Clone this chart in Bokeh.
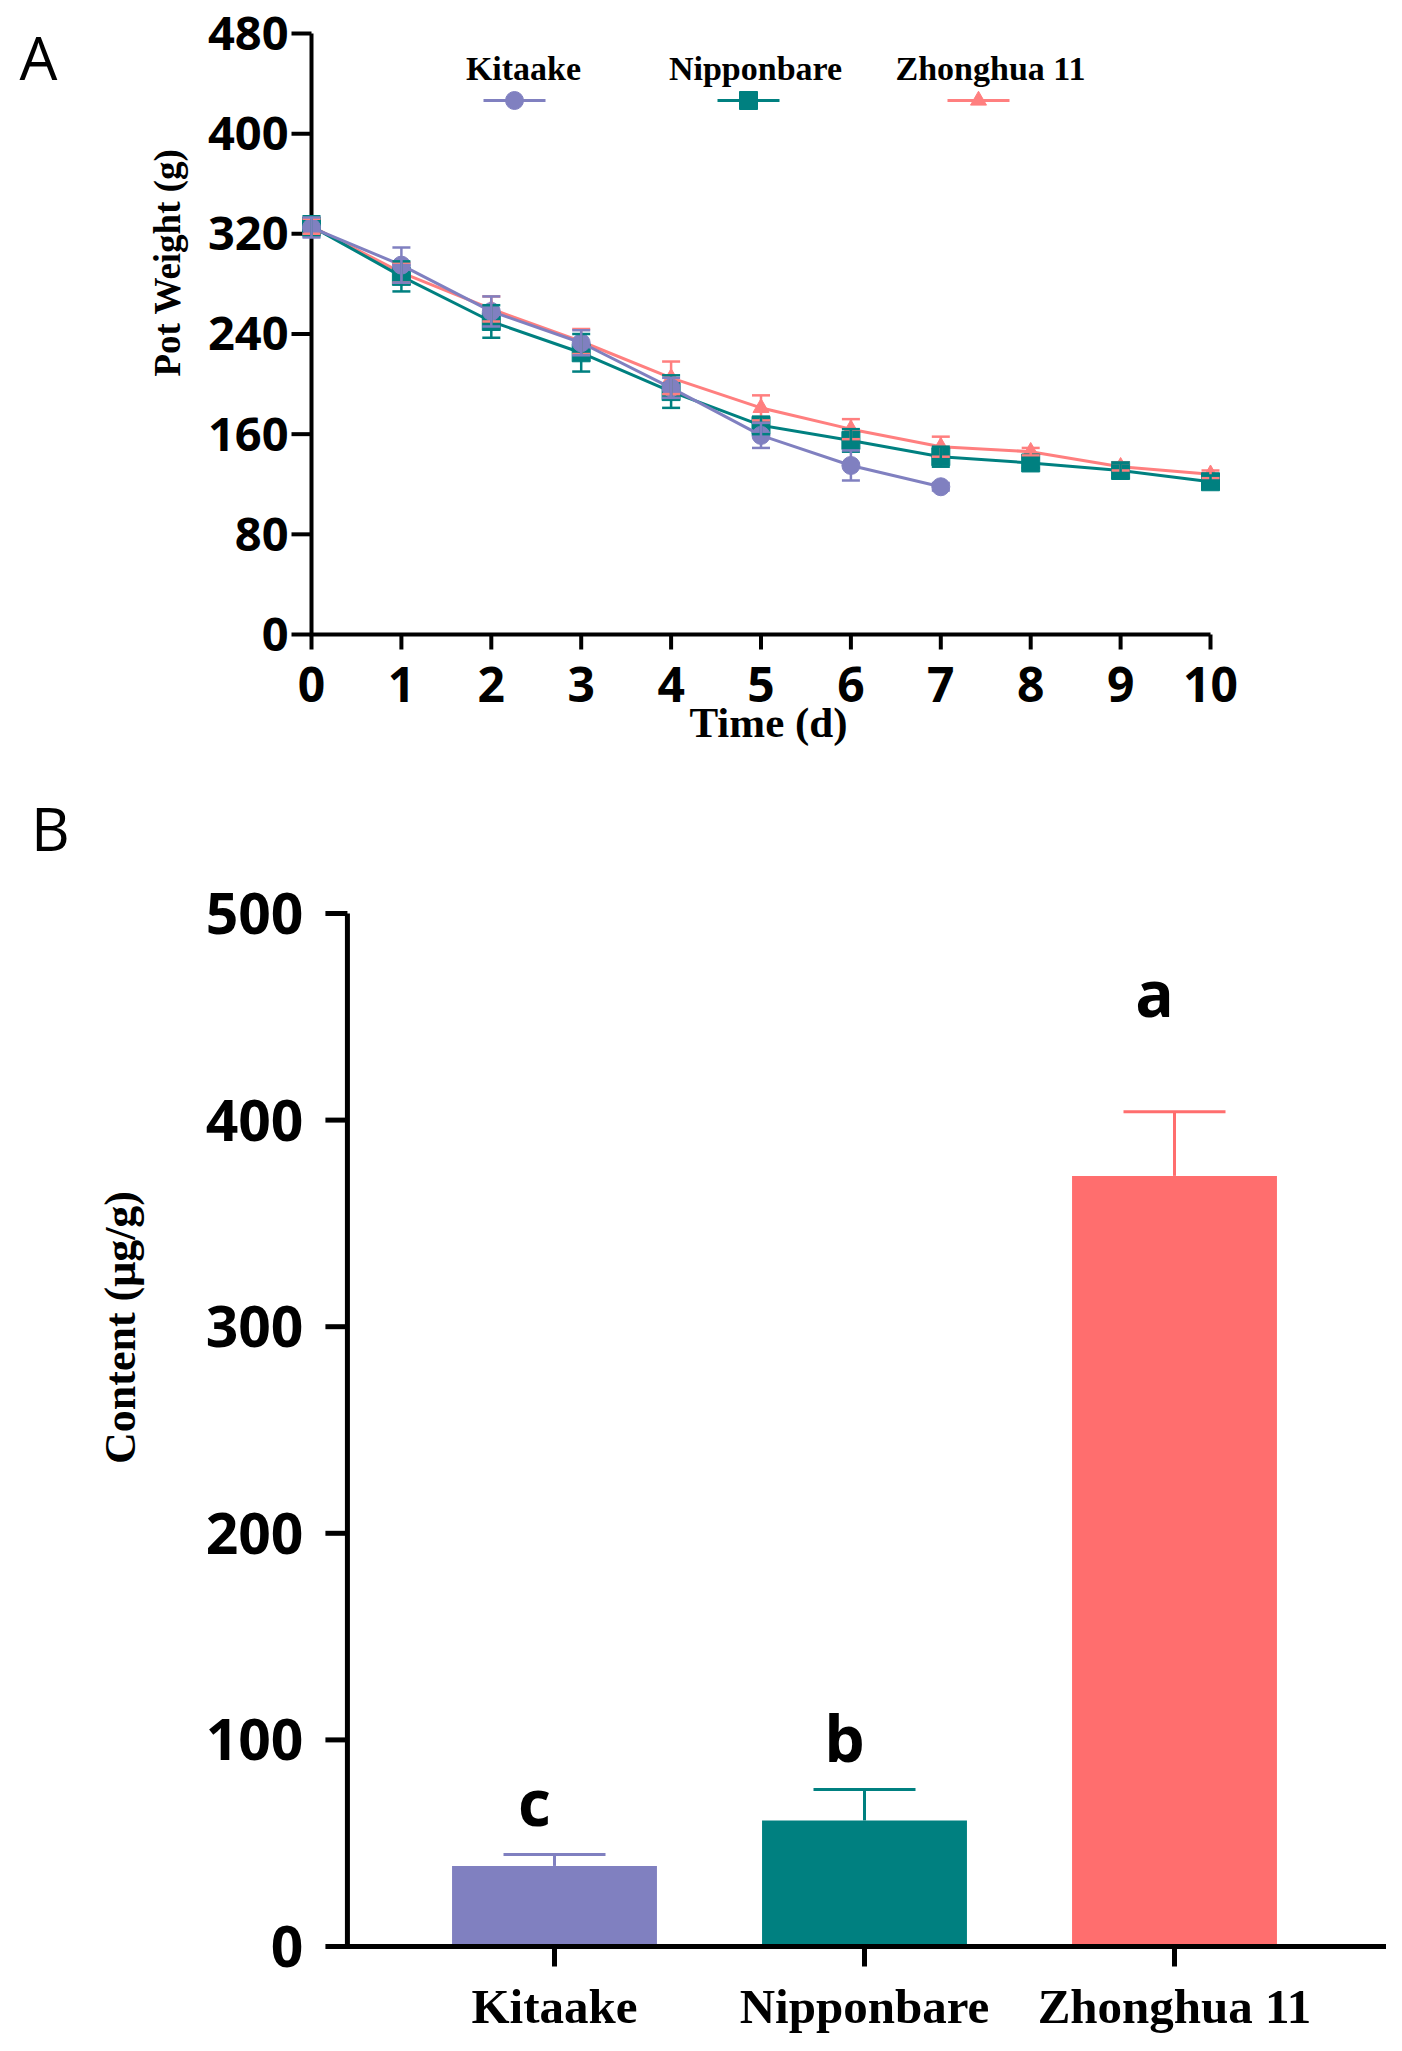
import math
from bokeh.plotting import figure
from bokeh.models import ColumnDataSource, Whisker, TeeHead, Range1d
from bokeh.layouts import column
from bokeh.embed import file_html
from bokeh.resources import INLINE
from bokeh.core.properties import value

# ---------------- data ----------------
days = list(range(11))
kitaake_weight = [325, 295, 258, 233, 197, 159, 135, 118]
kitaake_sd = [8, 14, 12, 10, 8, 10, 12, 3]
nipponbare_weight = [326, 286, 250, 225, 194, 167, 155, 142, 137, 131, 122]
nipponbare_sd = [8, 12, 13, 15, 13, 7, 9, 8, 4, 6, 5]
zhonghua_weight = [326, 289, 260, 234, 205, 181, 164, 150, 146, 134, 128]
zhonghua_sd = [6, 8, 10, 10, 13, 10, 8, 8, 3, 3, 3]
y_ticks_a = [0, 80, 160, 240, 320, 400, 480]

cultivars = ["Kitaake", "Nipponbare", "Zhonghua 11"]
content = [39, 61, 373]
content_sd = [5.5, 15, 31]
letters = ["c", "b", "a"]
y_ticks_b = [0, 100, 200, 300, 400, 500]

bar_colors = ["#8080C0", "#008080", "#FF6E6E"]
line_colors = ["#8080C0", "#008080", "#FF7F7F"]
markers = ["circle", "square", "triangle"]
marker_sizes = [18, 18, 16]

SANS = "Open Sans"
SERIF = "Liberation Serif"
PAGE = 0  # observed page offset

# ---------------- panel A : layout constants (pixels) ----------------
A_W, A_H = 1386, 770
A_X0 = 311            # figure px of day 0
A_SX = 89.9           # px per day
A_Y0 = 634            # figure px (from top) of 0 g
A_SY = 1.2521         # px per g


def ax_(abs_x):
    return (abs_x - PAGE - A_X0) / A_SX


def ay_(abs_y):
    return (A_Y0 - (abs_y - PAGE)) / A_SY


pa = figure(width=A_W, height=A_H,
            x_range=Range1d(-A_X0 / A_SX, (A_W - A_X0) / A_SX),
            y_range=Range1d(-(A_H - A_Y0) / A_SY, A_Y0 / A_SY),
            x_axis_location=None, y_axis_location=None,
            output_backend="svg", toolbar_location=None, min_border=0)
pa.grid.visible = False
pa.outline_line_color = None

# axes drawn through the panel's scales
pa.line(x=[days[-1], 0, 0], y=[0, 0, y_ticks_a[-1]], line_color="black", line_width=4,
        line_join="miter")
pa.segment(x0=days, x1=days, y0=[0] * len(days), y1=[-15 / A_SY] * len(days),
           line_color="black", line_width=4)
pa.segment(x0=[0] * len(y_ticks_a), x1=[-20 / A_SX] * len(y_ticks_a), y0=y_ticks_a, y1=y_ticks_a,
           line_color="black", line_width=4)
pa.text(x=days, y=[0] * len(days), text=[str(d) for d in days], y_offset=50,
        text_align="center", text_baseline="middle", text_font=value(SANS),
        text_font_style="bold", text_font_size="48px", text_color="black")
pa.text(x=[0] * len(y_ticks_a), y=y_ticks_a, text=[str(t) for t in y_ticks_a], x_offset=-23,
        text_align="right", text_baseline="middle", text_font=value(SANS),
        text_font_style="bold", text_font_size="47px", text_color="black")

series = [
    (zhonghua_weight, zhonghua_sd, line_colors[2], markers[2], marker_sizes[2]),
    (nipponbare_weight, nipponbare_sd, line_colors[1], markers[1], marker_sizes[1]),
    (kitaake_weight, kitaake_sd, line_colors[0], markers[0], marker_sizes[0]),
]
for w, sd, col, mk, ms in series:
    xs = days[:len(w)]
    src = ColumnDataSource(dict(x=xs, y=w,
                                lo=[a - b for a, b in zip(w, sd)],
                                hi=[a + b for a, b in zip(w, sd)]))
    pa.add_layout(Whisker(source=src, base="x", lower="lo", upper="hi", dimension="height",
                          line_color=col, line_width=2.5, level="glyph",
                          upper_head=TeeHead(size=18, line_color=col, line_width=2.5),
                          lower_head=TeeHead(size=18, line_color=col, line_width=2.5)))
    pa.line("x", "y", source=src, line_color=col, line_width=3)
    pa.scatter("x", "y", source=src, marker=mk, size=ms, fill_color=col, line_color=col)

# legend: label above a line+marker sample
leg_text_abs_x = [523, 755, 990]
leg_mark_abs_x = [514, 748, 978]
leg_half_px = 31
for i, name in enumerate(cultivars):
    mx = ax_(leg_mark_abs_x[i])
    my = ay_(100)
    pa.segment(x0=[mx - leg_half_px / A_SX], x1=[mx + leg_half_px / A_SX], y0=[my], y1=[my],
               line_color=line_colors[i], line_width=3)
    pa.scatter(x=[mx], y=[my], marker=markers[i], size=marker_sizes[i],
               fill_color=line_colors[i], line_color=line_colors[i])
    pa.text(x=[ax_(leg_text_abs_x[i])], y=[ay_(68)], text=[name], text_font=value(SERIF),
            text_font_style="bold", text_font_size="34px", text_align="center",
            text_baseline="middle", text_color="black")

pa.text(x=[ax_(167)], y=[ay_(262)], text=["Pot Weight (g)"], angle=math.pi / 2,
        text_align="center", text_baseline="middle", text_font=value(SERIF),
        text_font_style="bold", text_font_size="37px", text_color="black")
pa.text(x=[ax_(768)], y=[ay_(722)], text=["Time (d)"], text_align="center",
        text_baseline="middle", text_font=value(SERIF), text_font_style="bold",
        text_font_size="43px", text_color="black")
pa.text(x=[ax_(38)], y=[ay_(56)], text=["A"], text_align="center", text_baseline="middle",
        text_font=value(SANS), text_font_size="60px", text_color="black")

# ---------------- panel B : layout constants (pixels) ----------------
B_W, B_H = 1386, 1273
B_TOP = PAGE + A_H    # absolute y of the figure's top
B_X1 = 554            # figure px of category 1
B_SX = 310.0          # px per category
B_Y0 = 1946 - B_TOP   # figure px (from top) of 0
B_SY = 1033 / 500.0   # px per unit
B_AXIS_X = (0.332, 3.683)


def bx_(abs_x):
    return 1 + (abs_x - PAGE - B_X1) / B_SX


def by_(abs_y):
    return (B_Y0 - (abs_y - B_TOP)) / B_SY


pb = figure(width=B_W, height=B_H,
            x_range=Range1d(1 - B_X1 / B_SX, 1 + (B_W - B_X1) / B_SX),
            y_range=Range1d(-(B_H - B_Y0) / B_SY, B_Y0 / B_SY),
            x_axis_location=None, y_axis_location=None,
            output_backend="svg", toolbar_location=None, min_border=0)
pb.grid.visible = False
pb.outline_line_color = None

xb = [1, 2, 3]
letter_y = [70, 101, 462]
srcb = ColumnDataSource(dict(x=xb, top=content, color=bar_colors, letter=letters, ly=letter_y))
pb.vbar(x="x", top="top", bottom=0, width=0.661, fill_color="color", line_color=None, source=srcb)

for i in range(3):
    s = ColumnDataSource(dict(x=[xb[i]], lo=[content[i]], hi=[content[i] + content_sd[i]]))
    pb.add_layout(Whisker(source=s, base="x", lower="lo", upper="hi", dimension="height",
                          line_color=bar_colors[i], line_width=3, lower_head=None,
                          upper_head=TeeHead(size=102, line_color=bar_colors[i], line_width=3)))

pb.text(x="x", y="ly", text="letter", source=srcb, text_font=value(SANS),
        text_font_style="bold", text_font_size="64px", text_align="center",
        text_baseline="alphabetic", x_offset=-20, text_color="black")

# axes
pb.line(x=[B_AXIS_X[1], B_AXIS_X[0], B_AXIS_X[0]], y=[0, 0, y_ticks_b[-1]], line_color="black",
        line_width=5, line_join="miter")
pb.segment(x0=[B_AXIS_X[0]] * len(y_ticks_b), x1=[B_AXIS_X[0] - 22 / B_SX] * len(y_ticks_b),
           y0=y_ticks_b, y1=y_ticks_b, line_color="black", line_width=5)
pb.segment(x0=xb, x1=xb, y0=[0] * 3, y1=[-20 / B_SY] * 3, line_color="black", line_width=5)
pb.text(x=[B_AXIS_X[0]] * len(y_ticks_b), y=y_ticks_b, text=[str(t) for t in y_ticks_b],
        x_offset=-44, text_align="right", text_baseline="middle", text_font=value(SANS),
        text_font_style="bold", text_font_size="57px", text_color="black")
pb.text(x=xb, y=[0] * 3, text=cultivars, y_offset=60, text_align="center",
        text_baseline="middle", text_font=value(SERIF), text_font_style="bold",
        text_font_size="49px", text_color="black")

pb.text(x=[bx_(120)], y=[by_(1327)], text=["Content (\u03bcg/g)"], angle=math.pi / 2,
        text_align="center", text_baseline="middle", text_font=value(SERIF),
        text_font_style="bold", text_font_size="44px", text_color="black")
pb.text(x=[bx_(50)], y=[by_(827)], text=["B"], text_align="center", text_baseline="middle",
        text_font=value(SANS), text_font_size="60px", text_color="black")

layout = column(pa, pb)
open("out.html", "w").write(file_html(layout, INLINE))
